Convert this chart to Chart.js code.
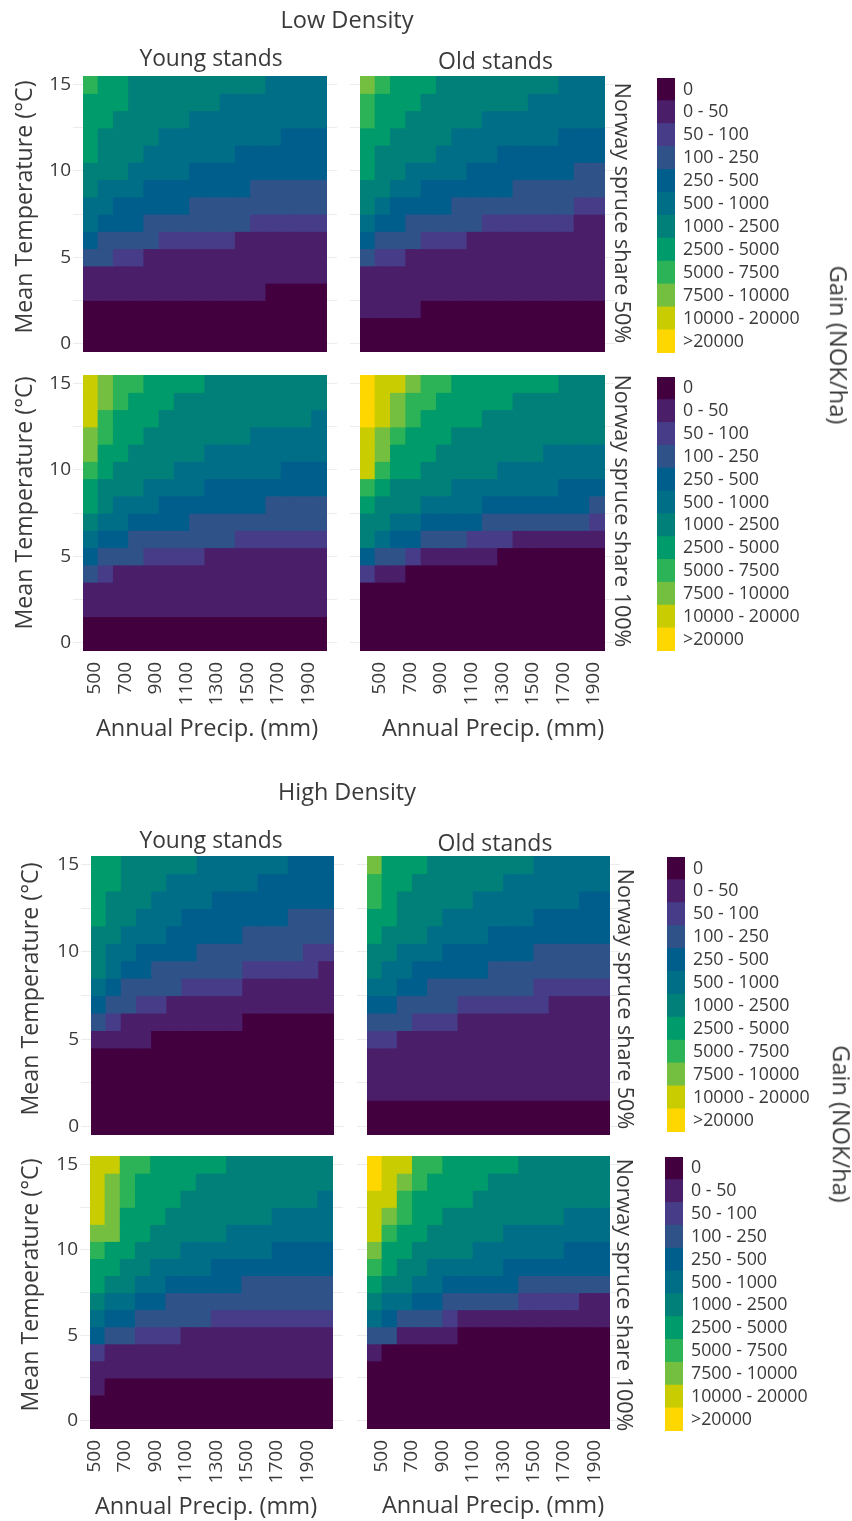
<!DOCTYPE html>
<html>
<head>
<meta charset="utf-8">
<script src="https://cdn.jsdelivr.net/npm/chart.js@4"></script>
<style>
html,body{margin:0;padding:0;background:#fff;width:852px;height:1521px;overflow:hidden}
#page{position:relative;width:852px;height:1521px;font-family:"Open Sans",sans-serif;color:#3a3a3a;filter:blur(0.4px)}
.box{position:absolute}
.box canvas{display:block}
.t{position:absolute;white-space:nowrap;line-height:1;transform-origin:center}
</style>
</head>
<body>
<div id="page"></div>
<script>
// Annual precipitation per column (mm)
const precipitation = [500,600,700,800,900,1000,1100,1200,1300,1400,1500,1600,1700,1800,1900,2000];
// Mean temperature per row, top row first (deg C)
const temperature = [15,14,13,12,11,10,9,8,7,6,5,4,3,2,1,0];
const temperatureTicks = [0,2.5,5,7.5,10,12.5,15];
const gainClasses = ["0","0 - 50","50 - 100","100 - 250","250 - 500","500 - 1000","1000 - 2500","2500 - 5000","5000 - 7500","7500 - 10000","10000 - 20000",">20000"];
const classColors = ["#43003f","#4b1e6a","#473c88","#2f5389","#005e8c","#006e87","#008079","#009b6a","#2db357","#75bf40","#c8cc00","#ffd700"];

// Gain class per cell (hex digit = index in gainClasses); rows run 15 -> 0 deg C, columns 500 -> 2000 mm
const lowYoung50 = ["8776666666665555","7776666665555555","7766666555555555","7666655555555444","7666555555444444","6665555444444444","6555444444433333","5544444333333333","5444333333322222","4333322222111111","3322111111111111","1111111111111111","1111111111110000","0000000000000000","0000000000000000","0000000000000000"];
const lowOld50 = ["9877766666666555","8777666666655555","8776666655555555","7766665555555444","7666655554444444","7665555444444433","6655444444333333","6544443333333322","5443333322222211","4333222111111111","3221111111111111","1111111111111111","1111111111111111","1111000000000000","0000000000000000","0000000000000000"];
const lowYoung100 = ["a988777766666666","a987776666666666","a877766666666665","9877666666655555","9776666655555555","8766665555555444","7666555544444444","7655544444443333","6554444333333333","5443333333222222","4333222211111111","3211111111111111","1111111111111111","1111111111111111","0000000000000000","0000000000000000"];
const lowOld100 = ["baa9887777777666","ba98877777666666","ba98777766666666","a987776666666666","a977766666665555","a877666665555555","8766665555555444","7666555544444443","6655444433333332","6544333222111111","4332111110000000","2110000000000000","0000000000000000","0000000000000000","0000000000000000","0000000000000000"];
const highYoung50 = ["7766666555555444","7766655555544444","7666555544444444","7665554444444333","6655544444333333","6554444333333322","6544333333222221","5433332222111111","4332211111111111","3211111111000000","1111000000000000","0000000000000000","0000000000000000","0000000000000000","0000000000000000","0000000000000000"];
const highOld50 = ["9777666666655555","8776666665555555","8766666555555544","7766655555544444","7666555544444444","6655544444433333","6554444433333333","5544333333322222","4433332222221111","3332221111111111","2211111111111111","1111111111111111","1111111111111111","1111111111111111","0000000000000000","0000000000000000"];
const highYoung100 = ["aa88777776666666","a987777666666666","a987776666666665","a977766666665555","9977666665555555","8776665555554444","7766555544444444","7665544444333333","6554433333333333","5443333322222222","4332221111111111","2111111111111111","1111111111111111","1000000000000000","0000000000000000","0000000000000000"];
const highOld100 = ["baa8877777666666","ba98777766666666","aa87777666666666","a987766666666555","a877666665555555","9776666555555444","8766555554444444","7665544444333333","6554433333222211","5433321111111111","3311110000000000","1000000000000000","0000000000000000","0000000000000000","0000000000000000","0000000000000000"];

const FONT = '"Open Sans", sans-serif';
const TEXT = '#3a3a3a';
const STUB = '#ececec';
const page = document.getElementById('page');

function mount(left, top, width, height){
  const box = document.createElement('div');
  box.className = 'box';
  box.style.left = left + 'px';
  box.style.top = top + 'px';
  const c = document.createElement('canvas');
  c.width = width; c.height = height;
  c.style.width = width + 'px'; c.style.height = height + 'px';
  box.appendChild(c);
  page.appendChild(box);
  return c;
}

function noPadding(s){
  s.paddingLeft = 0; s.paddingRight = 0; s.paddingTop = 0; s.paddingBottom = 0;
}

function panel(rows, L, T, R, B, withLabels, xShift){
  const leftM = 70, topM = 4, rightM = 12, bottomM = 62;
  const canvas = mount(L - leftM, T - topM, Math.round(R - L) + leftM + rightM, Math.round(B - T) + topM + bottomM);
  const datasets = rows.map((row, r) => {
    const t = temperature[r];
    return {
      data: precipitation.map(() => [t - 0.5, t + 0.5]),
      backgroundColor: row.split('').map(ch => classColors[parseInt(ch, 16)]),
      borderWidth: 0,
      inflateAmount: 0.6
    };
  });
  const chart = new Chart(canvas, {
    type: 'bar',
    data: { labels: precipitation.map(String), datasets },
    options: {
      responsive: false, animation: false,
      layout: { padding: { top: topM, right: 0, bottom: 0, left: 0 } },
      plugins: { legend: { display: false }, tooltip: { enabled: false }, title: { display: false } },
      datasets: { bar: { grouped: false, barPercentage: 1, categoryPercentage: 1 } },
      scales: {
        x: {
          grid: { display: false, drawTicks: false }, border: { display: false },
          afterFit: s => { s.height = bottomM; noPadding(s); },
          ticks: {
            display: true, autoSkip: false, minRotation: 90, maxRotation: 90, padding: 11,
            labelOffset: xShift, color: TEXT, font: { family: FONT, size: 19 },
            callback(v, i){ return (withLabels && i % 2 === 0) ? this.getLabelForValue(v) : ''; }
          }
        },
        y: {
          min: -0.5, max: 15.5,
          afterBuildTicks: s => { s.ticks = temperatureTicks.map(value => ({ value })); },
          afterFit: s => { s.width = leftM; noPadding(s); },
          grid: { drawOnChartArea: false, drawTicks: true, tickLength: 10, color: STUB },
          border: { display: false },
          ticks: {
            display: true, padding: 2, color: TEXT, font: { family: FONT, size: 19 },
            callback(v){ return (L < 200 && v % 5 === 0) ? String(v) : ''; }
          }
        },
        y2: {
          position: 'right', min: -0.5, max: 15.5,
          afterBuildTicks: s => { s.ticks = temperatureTicks.map(value => ({ value })); },
          afterFit: s => { s.width = rightM; noPadding(s); },
          grid: { drawOnChartArea: false, drawTicks: true, tickLength: 10, color: STUB },
          border: { display: false },
          ticks: { display: false }
        }
      }
    }
  });
  // keep the plot area exactly on the wanted rectangle
  const box = canvas.parentNode;
  box.style.left = (L - chart.chartArea.left) + 'px';
  box.style.top = (T - chart.chartArea.top) + 'px';
  return chart;
}

function legendBar(L, T, R, B){
  const labelW = 176;
  const canvas = mount(L, T, Math.round(R - L) + labelW, Math.round(B - T));
  new Chart(canvas, {
    type: 'bar',
    data: { labels: gainClasses, datasets: [{ data: gainClasses.map(() => 1), backgroundColor: classColors, borderWidth: 0, inflateAmount: 0.6 }] },
    options: {
      indexAxis: 'y', responsive: false, animation: false,
      layout: { padding: 0 },
      plugins: { legend: { display: false }, tooltip: { enabled: false } },
      datasets: { bar: { barPercentage: 1, categoryPercentage: 1 } },
      scales: {
        x: { display: false, min: 0, max: 1 },
        y: {
          position: 'right',
          afterFit: s => { s.width = labelW; noPadding(s); },
          grid: { display: false, drawTicks: false }, border: { display: false },
          ticks: { padding: 8, autoSkip: false, color: TEXT, font: { family: FONT, size: 17.8 } }
        }
      }
    }
  });
}

function label(text, x, y, size, rot){
  const d = document.createElement('div');
  d.className = 't';
  d.textContent = text;
  d.style.left = x + 'px';
  d.style.top = y + 'px';
  d.style.fontSize = size + 'px';
  d.style.transform = 'translate(-50%,-50%) rotate(' + (rot || 0) + 'deg)';
  page.appendChild(d);
}

panel(lowYoung50, 83.3, 76, 327.7, 351.7, false, 4);
panel(lowOld50, 360, 76, 605, 351.7, false, 12);
panel(lowYoung100, 83.3, 375, 327.7, 650.7, true, 4);
panel(lowOld100, 360, 375, 605, 650.7, true, 12);
panel(highYoung50, 90.7, 856, 333.3, 1134.7, false, -3);
panel(highOld50, 366.7, 856, 610, 1134.7, false, 7);
panel(highYoung100, 90, 1155.7, 333.3, 1429, true, -3);
panel(highOld100, 366.7, 1155.7, 610, 1429, true, 7);

legendBar(657.3, 77.7, 675.3, 352.3);
legendBar(657, 377.3, 675, 651.7);
legendBar(666.7, 856.7, 684.3, 1131.7);
legendBar(665, 1157.3, 683, 1431.7);

label('Low Density', 347, 20, 23.6);
label('High Density', 347, 792, 23.4);
label('Young stands', 211, 58, 22.8);
label('Old stands', 495.5, 60, 23);
label('Young stands', 211, 840, 22.8);
label('Old stands', 495, 842, 23);
label('Annual Precip. (mm)', 207, 728, 23.6);
label('Annual Precip. (mm)', 493, 728, 23.6);
label('Annual Precip. (mm)', 206, 1506, 23.6);
label('Annual Precip. (mm)', 493, 1505, 23.6);
label('Mean Temperature (\u00B0C)', 24, 207, 23.2, -90);
label('Mean Temperature (\u00B0C)', 24, 502.5, 23.2, -90);
label('Mean Temperature (\u00B0C)', 30, 989, 23.2, -90);
label('Mean Temperature (\u00B0C)', 30, 1285, 23.2, -90);
label('Norway spruce share 50%', 622.5, 213, 21.5, 90);
label('Norway spruce share 100%', 622.5, 511, 21.5, 90);
label('Norway spruce share 50%', 625.5, 999, 21.5, 90);
label('Norway spruce share 100%', 624.5, 1295, 21.5, 90);
label('Gain (NOK/ha)', 838, 345, 23.8, 90);
label('Gain (NOK/ha)', 841, 1124, 23.6, 90);
</script>
</body>
</html>
